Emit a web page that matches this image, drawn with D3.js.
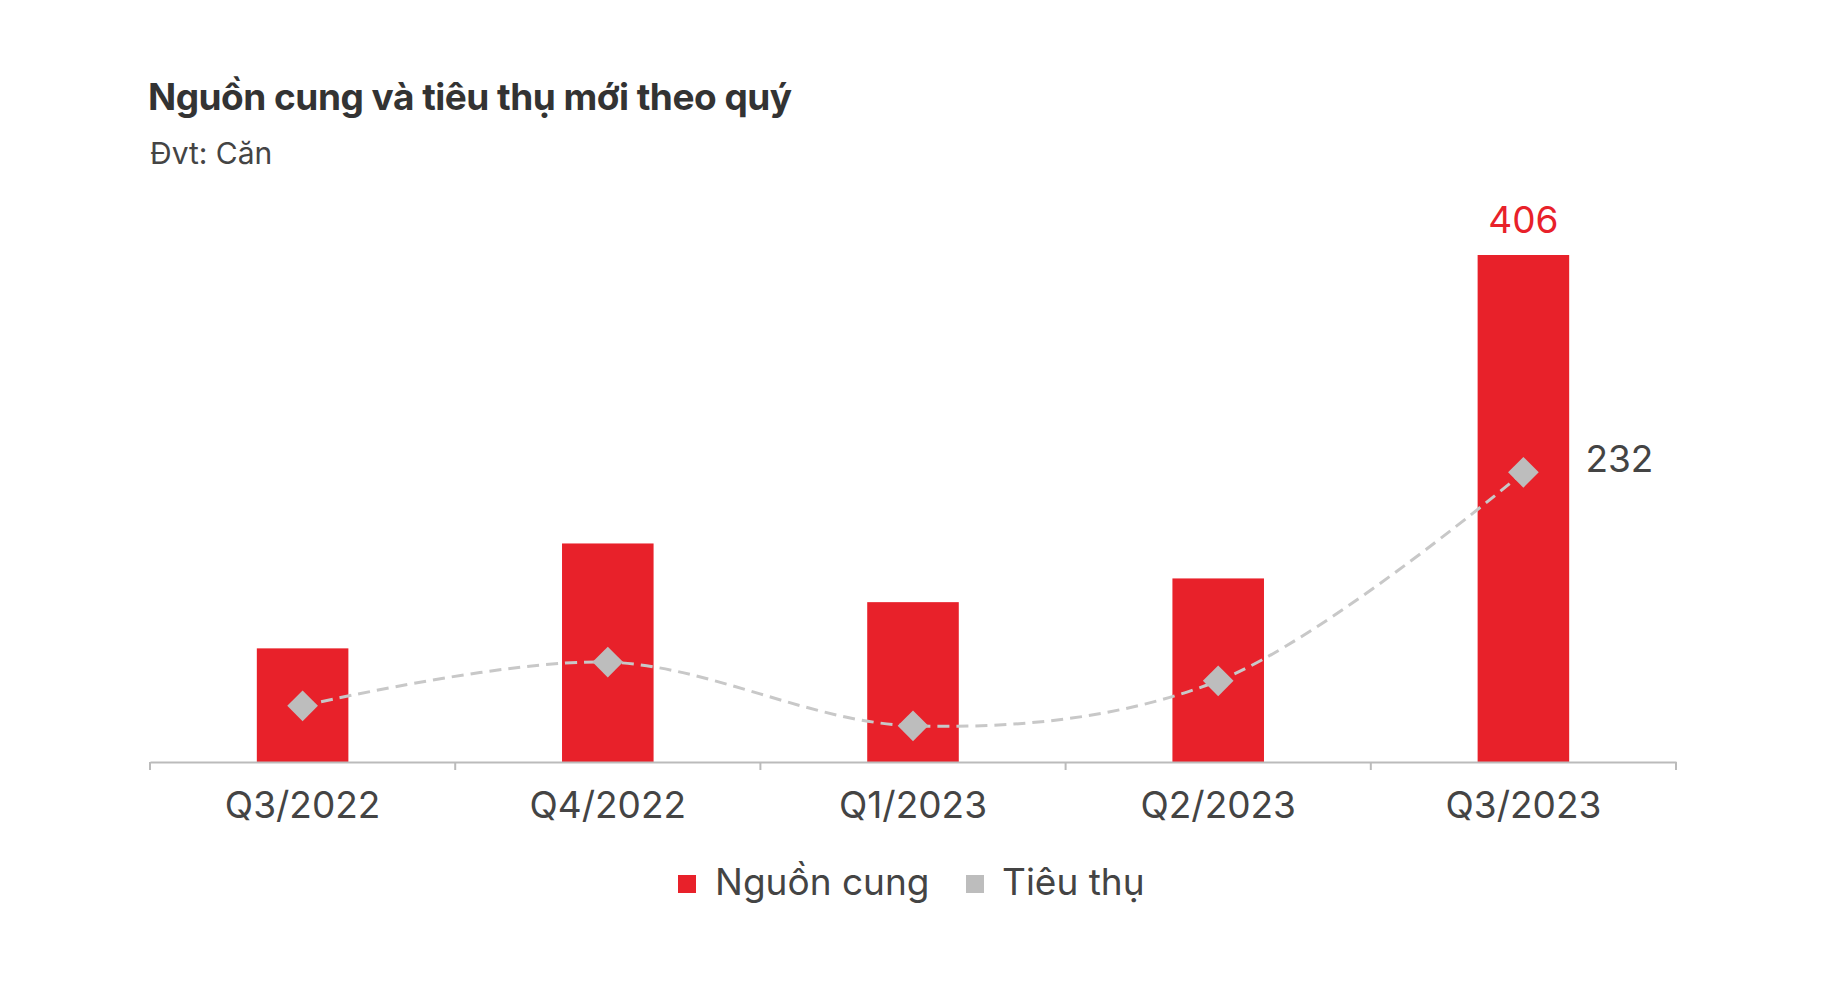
<!DOCTYPE html>
<html><head><meta charset="utf-8">
<script src="https://cdn.jsdelivr.net/npm/d3@7"></script>
<style>body{margin:0;background:#fff}text{font-family:Inter,"Noto Sans",sans-serif}</style>
</head><body><svg id="c"></svg>
<script>
var quarters = ["Q3/2022","Q4/2022","Q1/2023","Q2/2023","Q3/2023"];
var supply = [91, 175, 128, 147, 406];
var sales = [45, 80, 29, 65, 232];

var width = 1822, height = 986;
var left = 150, right = 1676, base = 762, plotTop = 255;
var svg = d3.select("#c").attr("width", width).attr("height", height);

var x = d3.scaleBand().domain(quarters).range([left, right]).paddingInner(0.7).paddingOuter(0.35);
var y = d3.scaleLinear().domain([0, 406]).range([base, plotTop]);

svg.append("text").attr("x", 148).attr("y", 110).attr("font-size", 37).attr("font-weight", 700)
    .attr("fill", "#333").attr("letter-spacing", -0.5).text("Nguồn cung và tiêu thụ mới theo quý");
svg.append("text").attr("x", 150).attr("y", 164).attr("font-size", 30)
    .attr("fill", "#444").text("Đvt: Căn");

svg.selectAll(".bar").data(supply).enter().append("rect")
    .attr("x", function(d, i){ return x(quarters[i]); })
    .attr("width", x.bandwidth())
    .attr("y", function(d){ return y(d); })
    .attr("height", function(d){ return base - y(d); })
    .attr("fill", "#e8212a");

var xAxis = d3.axisBottom(x).tickSize(0).tickPadding(30);
var ax = svg.append("g").attr("transform", "translate(0," + base + ")").call(xAxis);
ax.select(".domain").attr("stroke", "#bbb").attr("stroke-width", 2);
ax.selectAll("text").attr("font-size", 37).attr("fill", "#444").attr("font-family", "Inter,'Noto Sans',sans-serif");
// category separators
svg.selectAll(".sep").data(d3.range(quarters.length + 1)).enter().append("line")
    .attr("x1", function(i){ return left + i*(right-left)/quarters.length; })
    .attr("x2", function(i){ return left + i*(right-left)/quarters.length; })
    .attr("y1", base).attr("y2", base + 8).attr("stroke", "#bbb").attr("stroke-width", 2);

var cx = function(i){ return x(quarters[i]) + x.bandwidth()/2; };
var line = d3.line().x(function(d, i){ return cx(i); }).y(function(d){ return y(d); })
    .curve(d3.curveCatmullRom.alpha(0.5));
svg.append("path").attr("d", line(sales)).attr("fill", "none")
    .attr("stroke", "#c8c8c8").attr("stroke-width", 3).attr("stroke-dasharray", "12,7");
svg.selectAll(".pt").data(sales).enter().append("path")
    .attr("d", d3.symbol(d3.symbolDiamond2, 600)())
    .attr("transform", function(d, i){ return "translate(" + cx(i) + "," + y(d) + ")"; })
    .attr("fill", "#bdbdbd");

var last = quarters.length - 1;
svg.append("text").attr("x", cx(last)).attr("y", y(supply[last]) - 22).attr("text-anchor", "middle")
    .attr("font-size", 37).attr("fill", "#e8212a").text(supply[last]);
svg.append("text").attr("x", cx(last) + 62).attr("y", y(sales[last]) - 0).attr("font-size", 37)
    .attr("fill", "#444").text(sales[last]);

var lg = svg.append("g").attr("transform", "translate(0,895)");
lg.append("rect").attr("x", 678).attr("y", -20).attr("width", 18).attr("height", 18).attr("fill", "#e8212a");
lg.append("text").attr("x", 715).attr("y", 0).attr("font-size", 37).attr("fill", "#444").text("Nguồn cung");
lg.append("rect").attr("x", 966).attr("y", -20).attr("width", 18).attr("height", 18).attr("fill", "#bdbdbd");
lg.append("text").attr("x", 1002).attr("y", 0).attr("font-size", 37).attr("fill", "#444").text("Tiêu thụ");
</script></body></html>
